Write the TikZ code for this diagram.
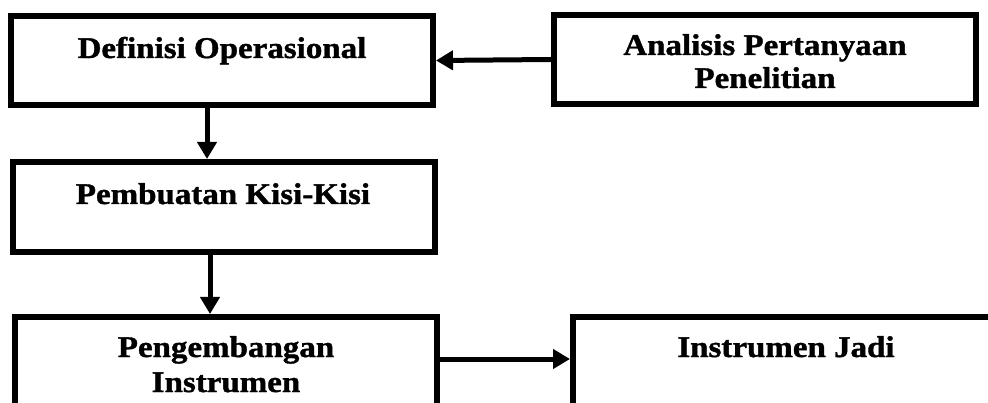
\documentclass[tikz,border=0pt]{standalone}
\usepackage{fontspec}
\setmainfont{Liberation Serif}[FakeStretch=1.1,FakeBold=1.3]
\usetikzlibrary{arrows.meta}
\begin{document}
\begin{tikzpicture}[x=1pt,y=-1pt,
  box/.style={draw=black,line width=6pt,inner sep=0pt,fill=none},
  txt/.style={font=\fontsize{30}{34}\selectfont\bfseries,inner sep=0pt,anchor=base},
  arr/.style={line width=5pt,-{Triangle[length=17pt,width=19pt]}}]
\useasboundingbox (0,0) rectangle (988,403);
\clip (0,0) rectangle (988,403);
\fill[white] (0,0) rectangle (988,403);
% boxes
\node[box,minimum width=422pt,minimum height=89pt] (b1) at (222,60.5) {};
\node[box,minimum width=422pt,minimum height=89pt] (b2) at (765,59.5) {};
\node[box,minimum width=422pt,minimum height=90pt] (b3) at (224,207) {};
\node[box,minimum width=422pt,minimum height=113pt] (b4) at (226,373.5) {};
\node[box,minimum width=426pt,minimum height=113pt] (b5) at (786,373.5) {};
% texts
\node[txt] (t1) at (222,58) {Definisi Operasional};
\node[txt] (t2a) at (765,55) {Analisis Pertanyaan};
\node[txt] (t2b) at (765,88) {Penelitian};
\node[txt] (t3) at (223,204) {Pembuatan Kisi-Kisi};
\node[txt] (t4a) at (226,357) {Pengembangan};
\node[txt] (t4b) at (226,392) {Instrumen};
\node[txt] (t5) at (786,357) {Instrumen Jadi};
% connectors
\draw[arr] (b2.west) -- (b1.east);
\draw[arr] ([xshift=-15pt]b1.south) -- ([xshift=-15pt]b1.south |- b3.north);
\draw[arr] ([xshift=-14pt]b3.south) -- ([xshift=-14pt]b3.south |- b4.north);
\draw[arr] ([yshift=14.5pt]b4.east) -- ([yshift=14.5pt]b5.west);
\end{tikzpicture}
\end{document}
